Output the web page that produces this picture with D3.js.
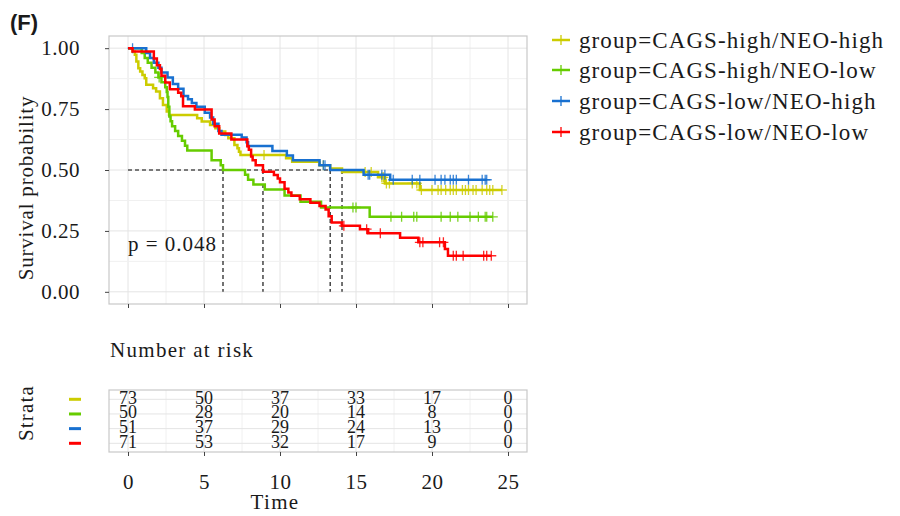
<!DOCTYPE html>
<html>
<head>
<meta charset="utf-8">
<script src="https://cdn.jsdelivr.net/npm/d3@7"></script>
<style>
  body { margin: 0; background: #fff; }
  text { font-family: "Liberation Serif", "DejaVu Serif", serif; fill: #1a1a1a; }
</style>
</head>
<body>
<div id="chart"></div>
<script>
// strata
const groups = ["CAGS-high/NEO-high", "CAGS-high/NEO-low", "CAGS-low/NEO-high", "CAGS-low/NEO-low"];
const colors = ["#CCCC00", "#66CC00", "#1870D0", "#FF0000"];

// event times and survival after each step
const hhTime = [0.3, 0.45, 0.55, 0.68, 0.8, 0.95, 1.1, 1.2, 1.65, 1.85, 2.1, 2.3, 2.55, 2.7, 4.55, 4.85, 5.4, 5.75, 6.0, 6.4, 6.6, 7.0, 7.2, 7.3, 7.4, 10.4, 10.8, 12.6, 13.3, 14.08, 16.45, 16.9, 19.2];
const hhSurv = [0.986, 0.973, 0.945, 0.918, 0.904, 0.89, 0.877, 0.85, 0.836, 0.822, 0.795, 0.767, 0.74, 0.726, 0.712, 0.699, 0.685, 0.671, 0.658, 0.644, 0.63, 0.603, 0.589, 0.575, 0.562, 0.548, 0.534, 0.52, 0.506, 0.492, 0.47, 0.445, 0.418];
const hhCensor = [8.95, 12.85, 15.6, 16.0, 16.7, 16.8, 17.0, 17.2, 18.7, 19.0, 19.3, 20.0, 20.4, 20.6, 20.9, 21.2, 21.4, 21.6, 22.0, 22.2, 22.4, 22.7, 22.9, 23.3, 23.6, 23.8, 24.0, 24.6];

const hlTime = [0.9, 1.1, 1.3, 1.55, 1.8, 2.0, 2.2, 2.45, 2.55, 2.6, 2.65, 2.72, 2.8, 2.9, 3.1, 3.3, 3.55, 3.75, 3.9, 5.5, 6.1, 6.25, 7.7, 7.9, 8.25, 9.0, 10.3, 11.35, 12.7, 15.9];
const hlSurv = [0.98, 0.96, 0.94, 0.92, 0.9, 0.88, 0.86, 0.84, 0.82, 0.8, 0.76, 0.72, 0.7, 0.68, 0.66, 0.64, 0.62, 0.6, 0.58, 0.54, 0.52, 0.5, 0.48, 0.46, 0.44, 0.42, 0.395, 0.37, 0.346, 0.308];
const hlCensor = [2.05, 14.8, 15.0, 17.3, 18.0, 18.8, 19.0, 20.6, 21.2, 21.7, 22.5, 23.05, 23.5, 23.6, 24.0];

const lhTime = [1.2, 1.45, 1.7, 2.0, 2.2, 2.6, 2.95, 3.3, 3.65, 3.95, 4.2, 4.5, 5.05, 5.4, 5.6, 5.95, 6.15, 7.48, 7.8, 7.9, 9.5, 10.45, 10.85, 12.6, 13.3, 15.5, 17.25];
const lhSurv = [0.98, 0.96, 0.94, 0.92, 0.9, 0.88, 0.853, 0.833, 0.804, 0.79, 0.775, 0.76, 0.735, 0.715, 0.69, 0.66, 0.645, 0.633, 0.614, 0.598, 0.578, 0.56, 0.54, 0.52, 0.5, 0.48, 0.46];
const lhCensor = [0.3, 12.85, 12.96, 15.8, 15.9, 16.7, 16.9, 17.45, 18.7, 19.2, 20.2, 20.6, 20.85, 21.2, 21.4, 21.6, 22.4, 23.3, 23.5, 23.6];

const llTime = [0.3, 1.7, 1.9, 2.1, 2.2, 2.45, 2.75, 3.3, 3.5, 3.62, 4.4, 5.5, 5.7, 6.0, 6.8, 7.85, 7.95, 8.1, 8.2, 8.4, 8.88, 9.6, 9.85, 10.0, 10.3, 10.55, 10.75, 11.3, 12.0, 12.6, 13.0, 13.2, 13.4, 14.06, 15.26, 15.8, 17.9, 19.1, 20.85, 21.05];
const llSurv = [0.986, 0.958, 0.93, 0.915, 0.887, 0.859, 0.831, 0.817, 0.803, 0.762, 0.748, 0.707, 0.68, 0.65, 0.625, 0.597, 0.583, 0.555, 0.54, 0.52, 0.493, 0.479, 0.465, 0.45, 0.423, 0.408, 0.394, 0.38, 0.366, 0.352, 0.338, 0.31, 0.285, 0.271, 0.257, 0.24, 0.222, 0.203, 0.176, 0.148];
const llCensor = [14.2, 15.7, 16.6, 19.2, 19.4, 20.5, 20.75, 21.4, 21.6, 22.05, 23.4, 23.6, 23.9];

// number at risk
const riskTimes = [0, 5, 10, 15, 20, 25];
const riskHH = [73, 50, 37, 33, 17, 0];
const riskHL = [50, 28, 20, 14, 8, 0];
const riskLH = [51, 37, 29, 24, 13, 0];
const riskLL = [71, 53, 32, 17, 9, 0];

const xTicks = [0, 5, 10, 15, 20, 25];
const yTicks = [0, 0.25, 0.5, 0.75, 1];
const pLabel = "p = 0.048";

const series = [
  { time: hhTime, surv: hhSurv, censor: hhCensor, risk: riskHH },
  { time: hlTime, surv: hlSurv, censor: hlCensor, risk: riskHL },
  { time: lhTime, surv: lhSurv, censor: lhCensor, risk: riskLH },
  { time: llTime, surv: llSurv, censor: llCensor, risk: riskLL }
];

const width = 900, height = 516;
const svg = d3.select("#chart").append("svg")
  .attr("width", width).attr("height", height);

const panel = { left: 109, right: 527, top: 36, bottom: 304 };
const x = d3.scaleLinear().domain([-1.25, 26.25]).range([panel.left, panel.right]);
const y = d3.scaleLinear().domain([-0.05, 1.05]).range([panel.bottom, panel.top]);

// survival at time t for a series
function survAt(s, t) {
  let v = 1;
  s.time.forEach((tt, i) => { if (tt <= t) v = s.surv[i]; });
  return v;
}

// grid
const grid = svg.append("g");
const minorX = d3.range(-2.5, 27.5, 5);
const minorY = [0.125, 0.375, 0.625, 0.875];
const gridX = xTicks.concat(minorX).filter(d => x(d) > panel.left && x(d) < panel.right);
grid.selectAll(".vx").data(gridX).enter()
  .append("line")
  .attr("x1", d => x(d)).attr("x2", d => x(d))
  .attr("y1", panel.top).attr("y2", panel.bottom)
  .attr("stroke", d => xTicks.includes(d) ? "#e4e4e4" : "#f0f0f0").attr("stroke-width", 1);
grid.selectAll(".hy").data(yTicks.concat(minorY)).enter()
  .append("line")
  .attr("x1", panel.left).attr("x2", panel.right)
  .attr("y1", d => y(d)).attr("y2", d => y(d))
  .attr("stroke", d => yTicks.includes(d) ? "#e4e4e4" : "#f0f0f0").attr("stroke-width", 1);

// median lines
const medians = series.map(s => {
  const i = s.surv.findIndex(v => v <= 0.5);
  return i >= 0 ? s.time[i] : null;
}).filter(d => d !== null);

const dash = svg.append("g").attr("stroke", "#000").attr("stroke-width", 1.1).attr("stroke-dasharray", "4,3");
dash.append("line")
  .attr("x1", x(0)).attr("x2", x(d3.max(medians)))
  .attr("y1", y(0.5)).attr("y2", y(0.5));
dash.selectAll(".mv").data(medians).enter()
  .append("line")
  .attr("x1", d => x(d)).attr("x2", d => x(d))
  .attr("y1", y(0.5)).attr("y2", y(0));

// curves
const line = d3.line().curve(d3.curveStepAfter).x(d => x(d[0])).y(d => y(d[1]));
const plus = "M-5,0H5M0,-5V5";

series.forEach((s, k) => {
  const end = d3.max(s.censor.concat(s.time));
  const pts = [[0, 1]].concat(s.time.map((t, i) => [t, s.surv[i]]));
  pts.push([end, s.surv[s.surv.length - 1]]);
  svg.append("path")
    .attr("d", line(pts))
    .attr("fill", "none")
    .attr("stroke", colors[k])
    .attr("stroke-width", 2.5);
  svg.append("g").selectAll("path").data(s.censor).enter()
    .append("path")
    .attr("d", plus)
    .attr("transform", d => `translate(${x(d)},${y(survAt(s, d))})`)
    .attr("stroke", colors[k])
    .attr("stroke-width", 1.3)
    .attr("opacity", 0.85);
});

// panel border
svg.append("rect")
  .attr("x", panel.left).attr("y", panel.top)
  .attr("width", panel.right - panel.left).attr("height", panel.bottom - panel.top)
  .attr("fill", "none").attr("stroke", "#c8c8c8").attr("stroke-width", 1.2);

// axes
const yAxis = svg.append("g")
  .attr("transform", `translate(${panel.left},0)`)
  .call(d3.axisLeft(y).tickValues(yTicks).tickFormat(d3.format(".2f")).tickSize(4).tickPadding(25));
yAxis.select(".domain").remove();
yAxis.selectAll("line").attr("stroke", "#444");
yAxis.selectAll("text").attr("font-size", 21).attr("fill", "#222")
  .attr("font-family", "Liberation Serif, serif").attr("letter-spacing", 0.5);

const xAxis = svg.append("g")
  .attr("transform", `translate(0,${panel.bottom})`)
  .call(d3.axisBottom(x).tickValues(xTicks).tickFormat("").tickSize(4));
xAxis.select(".domain").remove();
xAxis.selectAll("line").attr("stroke", "#444");

svg.append("text")
  .attr("transform", "translate(33,188) rotate(-90)")
  .attr("text-anchor", "middle")
  .attr("font-size", 21).attr("letter-spacing", 0.8)
  .text("Survival probability");

svg.append("text")
  .attr("x", x(0)).attr("y", 251)
  .attr("font-size", 21).attr("letter-spacing", 1)
  .text(pLabel);

svg.append("text")
  .attr("x", 10).attr("y", 30)
  .attr("font-size", 22).attr("font-weight", "bold")
  .style("font-family", "Liberation Sans, Arial, sans-serif")
  .text("(F)");

// legend
const legend = svg.append("g");
const legY = [40, 70, 101, 132];
groups.forEach((g, k) => {
  const row = legend.append("g").attr("transform", `translate(0,${legY[k]})`);
  row.append("line").attr("x1", 552).attr("x2", 570).attr("y1", 0).attr("y2", 0)
    .attr("stroke", colors[k]).attr("stroke-width", 2.5);
  row.append("path").attr("d", plus).attr("transform", "translate(561,0)")
    .attr("stroke", colors[k]).attr("stroke-width", 1.3);
  row.append("text").attr("x", 579).attr("y", 0).attr("dy", "0.35em")
    .attr("font-size", 23).attr("letter-spacing", 1.1)
    .text("group=" + g);
});

// risk table
svg.append("text").attr("x", 110).attr("y", 357)
  .attr("font-size", 21).attr("letter-spacing", 1.3)
  .text("Number at risk");

const tPanel = { top: 390, bottom: 452 };
const yr = d3.scalePoint().domain(groups).range([399.3, 443.3]);

const tgrid = svg.append("g");
tgrid.selectAll(".tv").data(gridX).enter()
  .append("line")
  .attr("x1", d => x(d)).attr("x2", d => x(d))
  .attr("y1", tPanel.top).attr("y2", tPanel.bottom)
  .attr("stroke", d => xTicks.includes(d) ? "#e4e4e4" : "#f0f0f0");
tgrid.selectAll(".th").data(groups).enter()
  .append("line")
  .attr("x1", panel.left).attr("x2", panel.right)
  .attr("y1", d => yr(d)).attr("y2", d => yr(d))
  .attr("stroke", "#e4e4e4");

svg.append("rect")
  .attr("x", panel.left).attr("y", tPanel.top)
  .attr("width", panel.right - panel.left).attr("height", tPanel.bottom - tPanel.top)
  .attr("fill", "none").attr("stroke", "#c8c8c8").attr("stroke-width", 1.2);

series.forEach((s, k) => {
  svg.append("g").selectAll("text").data(s.risk).enter()
    .append("text")
    .attr("x", (d, i) => x(riskTimes[i]))
    .attr("y", yr(groups[k]) + 4.5)
    .attr("text-anchor", "middle")
    .attr("font-size", 18)
    .text(d => d);
  svg.append("line")
    .attr("x1", 69).attr("x2", 81)
    .attr("y1", yr(groups[k])).attr("y2", yr(groups[k]))
    .attr("stroke", colors[k]).attr("stroke-width", 3);
});

const tAxis = svg.append("g")
  .attr("transform", `translate(0,${tPanel.bottom})`)
  .call(d3.axisBottom(x).tickValues(xTicks).tickSize(4).tickPadding(18));
tAxis.select(".domain").remove();
tAxis.selectAll("line").attr("stroke", "#444");
tAxis.selectAll("text").attr("font-size", 21).attr("fill", "#222")
  .attr("font-family", "Liberation Serif, serif").attr("letter-spacing", 0.5);

svg.append("text")
  .attr("x", 275).attr("y", 509)
  .attr("text-anchor", "middle")
  .attr("font-size", 21).attr("letter-spacing", 1.4)
  .text("Time");

svg.append("text")
  .attr("transform", "translate(33,413) rotate(-90)")
  .attr("text-anchor", "middle")
  .attr("font-size", 21).attr("letter-spacing", 1.2)
  .text("Strata");
</script>
</body>
</html>
